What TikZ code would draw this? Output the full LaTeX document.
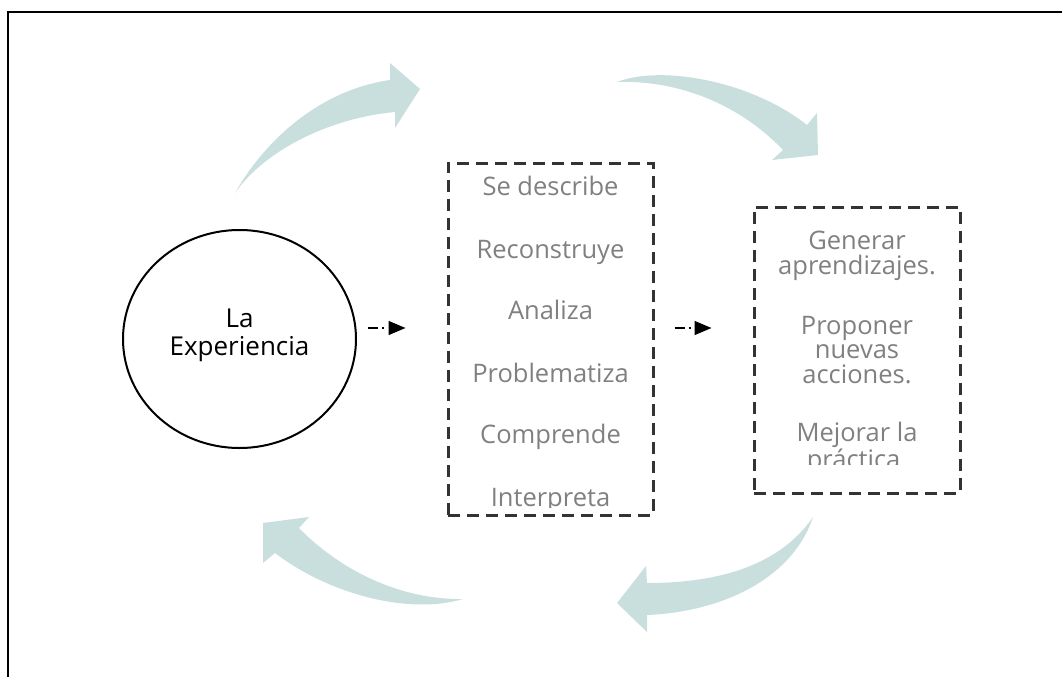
\documentclass[tikz,border=0pt]{standalone}
\usepackage{fontspec}
\setmainfont{Open Sans}
\usetikzlibrary{shapes.geometric,arrows.meta}
\definecolor{arrowfill}{RGB}{201,223,222}
\definecolor{txtgray}{RGB}{128,128,128}
\definecolor{boxline}{RGB}{51,51,51}
\tikzset{
  cyclearrow/.style={fill=arrowfill, draw=none},
  dbox/.style={draw=boxline, line width=3pt, dash pattern=on 12pt off 7pt, inner sep=0pt},
  graytext/.style={text=txtgray, anchor=base, inner sep=0pt, align=center,
    font=\fontsize{25.5}{24.5}\selectfont},
  dasharrow/.style={draw=black, line width=1.5pt, dash pattern=on 10pt off 4pt on 2pt off 12pt,
    -{Triangle[length=17pt,width=14pt]}},
}
\begin{document}
\begin{tikzpicture}[x=1pt,y=-1pt]
\useasboundingbox (0,0) rectangle (1062,677);
% frame
\draw[line width=2pt] (7.5,677) -- (7.5,12) -- (1062,12);

% cycle arrows
\fill[cyclearrow] (235,193) .. controls (265,140) and (320,90) .. (390,80)
  -- (390,63) -- (420,89) -- (395,128) -- (395,112)
  .. controls (330,118) and (265,150) .. (235,193) -- cycle;
\fill[cyclearrow] (617,82) .. controls (660,65) and (750,80) .. (807,125)
  -- (817,113) -- (818,155) -- (772,160) -- (783,150)
  .. controls (740,105) and (680,80) .. (617,82) -- cycle;
\fill[cyclearrow] (813,517) .. controls (780,565) and (720,583) .. (647,583)
  -- (646,566) -- (617,603) -- (647,632) -- (647,615)
  .. controls (720,612) and (792,580) .. (813,517) -- cycle;
\fill[cyclearrow] (463,599) .. controls (400,600) and (340,570) .. (299,528)
  -- (309,517) -- (263,523) -- (263,563) -- (275,553)
  .. controls (330,595) and (410,615) .. (463,599) -- cycle;

% experience ellipse
\node[ellipse, draw=black, line width=2pt, minimum width=233pt, minimum height=218pt, inner sep=0pt] (exp) at (239.5,339) {};
\node[anchor=base, inner sep=0pt, align=center, font=\fontsize{26}{28}\selectfont] (expt) at (239.5,355) {La\\Experiencia};

% boxes
\node[dbox, minimum width=205pt, minimum height=352pt] (box1) at (550.5,339) {};
\node[dbox, minimum width=206pt, minimum height=286pt] (box2) at (857,350) {};

\begin{scope}
\clip (448,163) rectangle (653,507);
\node[graytext] (t1) at (550.5,195) {Se describe};
\node[graytext] (t2) at (550.5,258) {Reconstruye};
\node[graytext] (t3) at (550.5,319) {Analiza};
\node[graytext] (t4) at (550.5,382) {Problematiza};
\node[graytext] (t5) at (550.5,443) {Comprende};
\node[graytext] (t6) at (550.5,506) {Interpreta};
\end{scope}

\begin{scope}
\clip (754,207) rectangle (960,464);
\node[graytext] (g1) at (857,274) {Generar\\aprendizajes.};
\node[graytext] (g2) at (857,383) {Proponer\\nuevas\\acciones.};
\node[graytext] (g3) at (857,468) {Mejorar la\\práctica.};
\end{scope}

% dash-dot connectors
\coordinate (arrowrow) at (0,328);
\draw[dasharrow, shorten <=11pt, shorten >=41pt] (exp.east |- arrowrow) -- (box1.west |- arrowrow);
\draw[dasharrow, shorten <=20pt, shorten >=41pt] (box1.east |- arrowrow) -- (box2.west |- arrowrow);
\end{tikzpicture}
\end{document}
